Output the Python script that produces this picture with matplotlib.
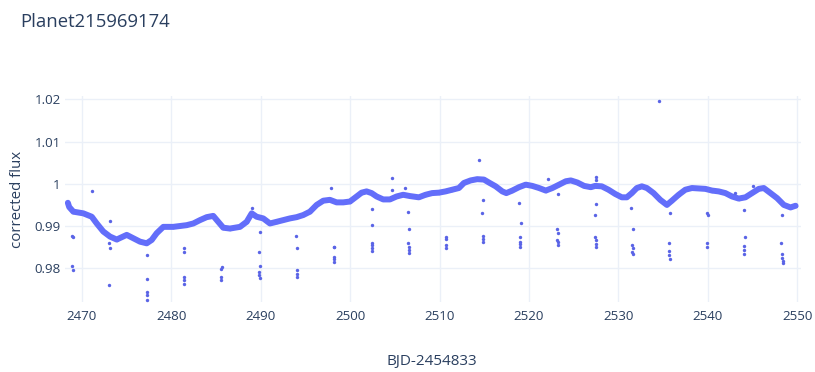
import matplotlib
matplotlib.use("Agg")
import matplotlib.pyplot as plt
from matplotlib.ticker import FixedLocator, FixedFormatter

# Detrended light curve: main stellar variability track
base_day = [2468.45, 2468.60, 2469.06, 2470.18, 2471.12, 2471.68, 2472.41, 2473.16, 2473.91,
            2475.03, 2475.77, 2476.51, 2477.26, 2477.82, 2478.38, 2479.12, 2480.23, 2480.98,
            2481.73, 2482.47, 2483.22, 2483.97, 2484.70, 2485.26, 2485.82, 2486.57, 2487.69,
            2488.44, 2489.00, 2489.55, 2490.29, 2491.04, 2491.79, 2492.53, 2493.27, 2494.02,
            2494.76, 2495.51, 2496.26, 2497.00, 2497.74, 2498.49, 2499.23, 2499.98, 2500.73,
            2501.28, 2501.84, 2502.40, 2502.96, 2503.70, 2504.45, 2505.20, 2505.93, 2506.68,
            2507.68, 2508.43, 2509.17, 2509.92, 2510.67, 2511.41, 2512.16, 2512.72, 2513.47,
            2514.21, 2514.96, 2515.52, 2516.27, 2517.01, 2517.46, 2518.13, 2518.88, 2519.63,
            2520.37, 2521.12, 2521.87, 2522.61, 2523.36, 2524.11, 2524.67, 2525.41, 2526.16,
            2526.91, 2527.39, 2528.13, 2528.88, 2529.63, 2530.37, 2530.93, 2531.49, 2532.05,
            2532.61, 2533.17, 2533.92, 2534.67, 2535.41, 2535.97, 2536.72, 2537.47, 2538.21,
            2538.96, 2539.71, 2540.45, 2541.20, 2541.95, 2542.69, 2543.44, 2544.19, 2544.93,
            2545.68, 2546.24, 2546.99, 2547.73, 2548.48, 2549.23, 2549.79]
base_flux = [0.9955, 0.9945, 0.9934, 0.9930, 0.9922, 0.9906, 0.9887, 0.9875, 0.9868,
             0.9879, 0.9871, 0.9863, 0.9859, 0.9867, 0.9883, 0.9898, 0.9898, 0.9900,
             0.9902, 0.9906, 0.9914, 0.9921, 0.9924, 0.9910, 0.9896, 0.9894, 0.9898,
             0.9910, 0.9930, 0.9922, 0.9918, 0.9906, 0.9910, 0.9914, 0.9918, 0.9921,
             0.9926, 0.9934, 0.9950, 0.9960, 0.9962, 0.9956, 0.9956, 0.9958, 0.9970,
             0.9979, 0.9982, 0.9978, 0.9970, 0.9963, 0.9963, 0.9970, 0.9974, 0.9971,
             0.9968, 0.9974, 0.9978, 0.9979, 0.9982, 0.9986, 0.9990, 1.0002, 1.0008,
             1.0011, 1.0010, 1.0003, 0.9994, 0.9982, 0.9978, 0.9984, 0.9992, 0.9998,
             0.9995, 0.9990, 0.9984, 0.9990, 0.9998, 1.0006, 1.0008, 1.0003, 0.9995,
             0.9992, 0.9995, 0.9994, 0.9986, 0.9976, 0.9968, 0.9968, 0.9978, 0.9990,
             0.9994, 0.9990, 0.9978, 0.9962, 0.9950, 0.9960, 0.9974, 0.9986, 0.9990,
             0.9989, 0.9988, 0.9984, 0.9982, 0.9978, 0.9970, 0.9965, 0.9968, 0.9978,
             0.9988, 0.9990, 0.9978, 0.9966, 0.9950, 0.9944, 0.9948]

# Isolated cadences off the main track (transit dips and outliers)
out_day = [2471.12, 2468.90, 2469.00, 2468.95, 2468.97, 2473.16, 2473.10, 2473.16, 2473.10,
           2477.33, 2477.26, 2477.33, 2477.33, 2477.33, 2481.43, 2481.47, 2481.43, 2481.47,
           2481.47, 2485.68, 2485.62, 2485.62, 2485.62, 2489.00, 2489.92, 2489.85, 2489.92,
           2489.85, 2489.85, 2489.92, 2493.95, 2494.10, 2494.02, 2494.02, 2494.10, 2497.82,
           2498.19, 2498.22, 2498.19, 2498.19, 2498.22, 2502.40, 2502.40, 2502.40, 2502.44,
           2502.40, 2502.44, 2504.64, 2504.64, 2506.12, 2506.49, 2506.60, 2506.49, 2506.56,
           2506.60, 2506.60, 2510.67, 2510.67, 2510.67, 2510.67, 2514.40, 2514.85, 2514.78,
           2514.85, 2514.85, 2514.89, 2518.88, 2519.07, 2518.96, 2519.00, 2519.00, 2519.00,
           2522.13, 2523.28, 2523.17, 2523.25, 2523.17, 2523.21, 2523.21, 2527.47, 2527.47,
           2527.47, 2527.36, 2527.40, 2527.47, 2527.47, 2527.47, 2531.42, 2531.57, 2531.49,
           2531.57, 2531.49, 2531.57, 2534.48, 2535.78, 2535.60, 2535.67, 2535.67, 2535.71,
           2539.85, 2539.96, 2539.85, 2539.89, 2543.06, 2545.00, 2544.00, 2544.11, 2544.04,
           2544.04, 2544.07, 2548.29, 2548.21, 2548.29, 2548.29, 2548.36, 2548.36]
out_flux = [0.9983, 0.9876, 0.9873, 0.9805, 0.9795, 0.9913, 0.9859, 0.9849, 0.9760,
            0.9831, 0.9774, 0.9744, 0.9736, 0.9725, 0.9847, 0.9839, 0.9779, 0.9771,
            0.9763, 0.9803, 0.9797, 0.9779, 0.9771, 0.9942, 0.9887, 0.9839, 0.9806,
            0.9790, 0.9783, 0.9776, 0.9876, 0.9847, 0.9795, 0.9787, 0.9779, 0.9990,
            0.9851, 0.9850, 0.9826, 0.9821, 0.9815, 0.9940, 0.9902, 0.9860, 0.9854,
            0.9847, 0.9840, 1.0014, 0.9986, 0.9991, 0.9934, 0.9894, 0.9859, 0.9851,
            0.9843, 0.9837, 0.9875, 0.9869, 0.9855, 0.9847, 1.0056, 0.9962, 0.9932,
            0.9877, 0.9869, 0.9863, 0.9955, 0.9908, 0.9873, 0.9863, 0.9857, 0.9850,
            1.0012, 0.9976, 0.9894, 0.9883, 0.9867, 0.9861, 0.9856, 1.0016, 1.0010,
            0.9952, 0.9926, 0.9873, 0.9867, 0.9857, 0.9851, 0.9942, 0.9893, 0.9855,
            0.9847, 0.9839, 0.9833, 1.0196, 0.9930, 0.9859, 0.9841, 0.9831, 0.9821,
            0.9930, 0.9927, 0.9859, 0.9850, 0.9979, 0.9995, 0.9938, 0.9873, 0.9853,
            0.9843, 0.9833, 0.9926, 0.9859, 0.9833, 0.9824, 0.9818, 0.9812]

x_ticks = [2470, 2480, 2490, 2500, 2510, 2520, 2530, 2540, 2550]
y_ticks = [0.98, 0.99, 1.00, 1.01, 1.02]
y_tick_labels = ["0.98", "0.99", "1", "1.01", "1.02"]

title = "Planet215969174"
x_label = "BJD-2454833"
y_label = "corrected flux"

MARK = "#636efa"
GRID = "#ebf0f8"
TEXT = "#2a3f5f"
FONT = "Open Sans"

W, H = 815, 372
fig = plt.figure(figsize=(W / 100, H / 100), dpi=100)
fig.patch.set_facecolor("white")

ax_l, ax_r, ax_t, ax_b = 65, 801, 96, 302
ax = fig.add_axes([ax_l / W, 1 - ax_b / H, (ax_r - ax_l) / W, (ax_b - ax_t) / H])
ax.set_facecolor("white")

ax.plot(base_day, base_flux, color=MARK, lw=4.3, solid_capstyle="round",
        solid_joinstyle="round", zorder=3)
ax.scatter(base_day, base_flux, s=6, color=MARK, linewidths=0, zorder=3)
ax.scatter(out_day, out_flux, s=6, color="#5a64e6", linewidths=0, zorder=3)

ax.set_xlim(2468.13, 2550.4)
ax.set_ylim(0.9720, 1.0208)

ax.xaxis.set_major_locator(FixedLocator(x_ticks))
ax.yaxis.set_major_locator(FixedLocator(y_ticks))
ax.yaxis.set_major_formatter(FixedFormatter(y_tick_labels))
ax.grid(True, color=GRID, lw=1.0, zorder=0)
ax.set_axisbelow(True)
for s in ax.spines.values():
    s.set_visible(False)
ax.tick_params(axis="both", length=0, labelcolor=TEXT, labelsize=9.6)
ax.tick_params(axis="x", pad=6)
ax.tick_params(axis="y", pad=3)
for lab in ax.get_xticklabels() + ax.get_yticklabels():
    lab.set_fontfamily(FONT)

fig.text(20 / W, 1 - 22 / H, title, fontsize=13.3, color=TEXT, family=FONT,
         ha="left", va="center")
fig.text(18 / W, 1 - 199 / H, y_label, fontsize=10.8, color=TEXT, family=FONT,
         rotation=90, ha="center", va="center")
fig.text(432 / W, 1 - 362 / H, x_label, fontsize=11, color=TEXT, family=FONT,
         ha="center", va="center")

fig.savefig("out.png", dpi=100, facecolor="white")
